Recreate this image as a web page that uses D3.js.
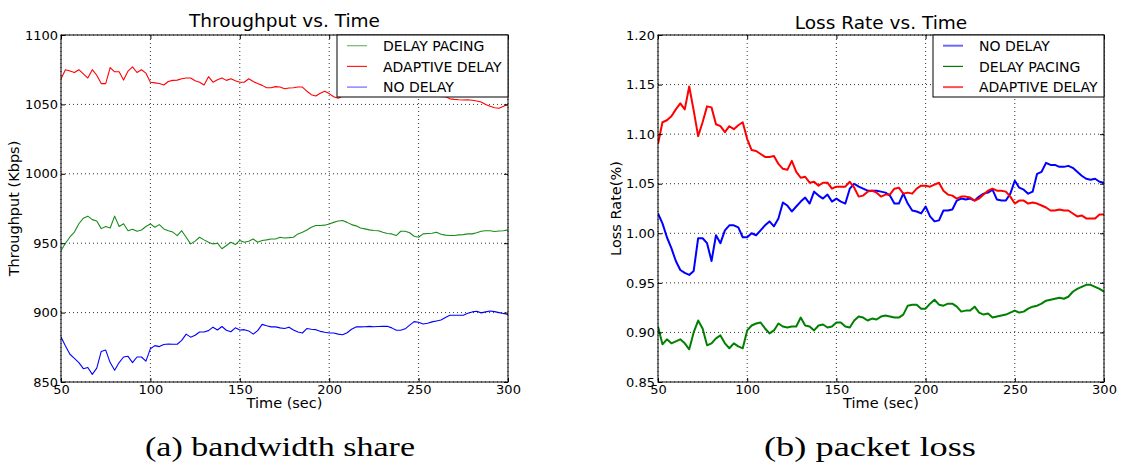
<!DOCTYPE html>
<html>
<head>
<meta charset="utf-8">
<script src="https://cdn.jsdelivr.net/npm/d3@7"></script>
<style>
  html, body { margin: 0; padding: 0; background: #fff; }
  svg { display: block; }
</style>
</head>
<body>
<div id="chart"></div>
<script>
// Sample times (sec), one every 2.5 s
const timeSec = d3.range(50, 302.5, 2.5);
const xTicks = [50, 100, 150, 200, 250, 300];

// (a) Throughput (Kbps)
const thrTicks = [850, 900, 950, 1000, 1050, 1100];
const thrDelayPacing = [
  944.7, 950, 954.5, 958, 964, 968, 969.5, 967, 966, 960.5,
  962, 961, 969.5, 962, 964, 959, 960, 958.6, 959.5, 962,
  963.9, 961.5, 963.4, 960.3, 959, 958, 955.5, 959, 954.3, 949.5,
  951.5, 954.3, 952.4, 950.7, 949.5, 950, 946, 948.3, 950.7, 949,
  952, 950.7, 951.4, 953, 950.7, 952, 952.4, 953, 953, 954.3,
  953.8, 954, 954.3, 956.7, 957.9, 959.5, 961.5, 962.7, 962.7, 963,
  963.9, 965, 966, 966.3, 965, 963.4, 962.5, 961, 960.3, 959.6,
  959.2, 959, 957.9, 957, 956.7, 955.5, 958.6, 958.6, 957.5, 955,
  954.3, 956.7, 957, 957.2, 957.9, 956.5, 955.8, 955.5, 955.5, 956,
  956.2, 956.7, 956.7, 957.5, 958.6, 959, 959, 958.4, 958.8, 959,
  959.6
];
const thrAdaptive = [
  1068.5, 1075, 1074, 1073, 1075, 1072, 1069, 1075, 1071, 1065,
  1065, 1076.5, 1073.5, 1073.5, 1067.5, 1074, 1077, 1073, 1075, 1072.5,
  1066, 1065.5, 1065, 1064, 1066.5, 1067.3, 1067.5, 1068.5, 1069, 1069,
  1067, 1066, 1064, 1070, 1066, 1067.8, 1069, 1067.3, 1068.5, 1067,
  1066, 1066, 1068.5, 1066.5, 1065, 1063.7, 1062, 1062, 1062.8, 1062.5,
  1061.3, 1061.8, 1062, 1062.5, 1062.5, 1059.5, 1057, 1056, 1058, 1059.5,
  1057.8, 1055.5, 1054.5, 1056, 1056.5, 1057, 1056.5, 1056, 1056.5, 1057,
  1056.5, 1056, 1056.5, 1056, 1056.5, 1057, 1056.5, 1056, 1056, 1056.5,
  1056, 1056, 1055.8, 1055.8, 1056, 1055.8, 1055.6, 1054, 1053.6, 1053.3,
  1053.2, 1053.4, 1053, 1052.5, 1051.7, 1050, 1048.6, 1047.6, 1047.2, 1048.6,
  1050
];
const thrNoDelay = [
  882.5, 876, 870, 867, 864, 859.6, 860.5, 855.5, 860, 872,
  873, 864, 858.5, 864, 868, 868.5, 864, 868, 868, 865,
  874, 876.2, 875.5, 877, 877.4, 877.2, 877.2, 880, 884.5, 882.3,
  883.7, 886, 886, 887, 889.5, 887.5, 890, 887.3, 886.2, 889,
  887.5, 887.7, 886.8, 884.5, 887, 891.5, 890.5, 889.7, 889.7, 889,
  888.5, 889.5, 887.5, 886, 885.3, 888.5, 888, 887.7, 886.5, 885.8,
  885.3, 885.3, 884.5, 884, 885.5, 888, 889.7, 889.7, 889.8, 890.1,
  889.8, 890, 890.1, 890.1, 889, 887.3, 887.3, 888.3, 891, 893.5,
  893, 891.8, 892.3, 893.3, 894, 894.7, 896.5, 898.1, 898.1, 898.1,
  898.1, 899.5, 900.5, 901, 899.8, 900.5, 901.2, 900.7, 900, 899.3,
  898.6
];

// (b) Loss rate (%)
const lossTicks = [0.85, 0.90, 0.95, 1.00, 1.05, 1.10, 1.15, 1.20];
const lossNoDelay = [
  1.020, 1.010, 0.996, 0.985, 0.972, 0.963, 0.960, 0.958, 0.962, 0.995,
  0.995, 0.990, 0.972, 0.998, 0.990, 1.003, 1.008, 1.008, 1.006, 0.996,
  0.996, 1.000, 0.998, 1.003, 1.008, 1.012, 1.007, 1.015, 1.031, 1.028,
  1.022, 1.027, 1.032, 1.036, 1.030, 1.042, 1.038, 1.035, 1.039, 1.032,
  1.035, 1.032, 1.030, 1.045, 1.050, 1.047, 1.045, 1.043, 1.043, 1.043,
  1.042, 1.041, 1.038, 1.030, 1.030, 1.040, 1.030, 1.023, 1.022, 1.020,
  1.027, 1.017, 1.012, 1.013, 1.023, 1.023, 1.024, 1.033, 1.035, 1.034,
  1.035, 1.033, 1.037, 1.040, 1.041, 1.044, 1.034, 1.033, 1.033, 1.040,
  1.053, 1.046, 1.044, 1.040, 1.042, 1.060, 1.062, 1.071, 1.069, 1.069,
  1.067, 1.067, 1.068, 1.066, 1.062, 1.058, 1.055, 1.054, 1.055, 1.052,
  1.051
];
const lossDelayPacing = [
  0.906, 0.888, 0.893, 0.889, 0.891, 0.893, 0.889, 0.883, 0.900, 0.912,
  0.904, 0.887, 0.889, 0.894, 0.897, 0.889, 0.884, 0.889, 0.886, 0.884,
  0.902, 0.907, 0.909, 0.910, 0.904, 0.899, 0.902, 0.909, 0.906, 0.905,
  0.906, 0.906, 0.915, 0.907, 0.906, 0.902, 0.907, 0.908, 0.905, 0.906,
  0.910, 0.910, 0.906, 0.905, 0.912, 0.916, 0.915, 0.912, 0.914, 0.913,
  0.916, 0.917, 0.916, 0.915, 0.915, 0.918, 0.927, 0.928, 0.928, 0.924,
  0.924, 0.929, 0.933, 0.928, 0.927, 0.929, 0.929, 0.926, 0.921, 0.922,
  0.922, 0.926, 0.920, 0.918, 0.919, 0.915, 0.916, 0.917, 0.918, 0.920,
  0.922, 0.920, 0.921, 0.924, 0.926, 0.927, 0.929, 0.932, 0.933, 0.934,
  0.935, 0.934, 0.936, 0.941, 0.944, 0.946, 0.948, 0.948, 0.946, 0.944,
  0.941
];
const lossAdaptive = [
  1.090, 1.112, 1.114, 1.118, 1.125, 1.131, 1.125, 1.148, 1.124, 1.098,
  1.112, 1.128, 1.127, 1.110, 1.108, 1.102, 1.108, 1.105, 1.109, 1.112,
  1.095, 1.084, 1.083, 1.080, 1.077, 1.077, 1.078, 1.070, 1.065, 1.064,
  1.073, 1.062, 1.056, 1.057, 1.051, 1.052, 1.048, 1.051, 1.051, 1.045,
  1.047, 1.047, 1.047, 1.052, 1.046, 1.037, 1.038, 1.042, 1.043, 1.041,
  1.037, 1.039, 1.039, 1.045, 1.046, 1.040, 1.041, 1.040, 1.045, 1.048,
  1.048, 1.047, 1.049, 1.051, 1.043, 1.039, 1.038, 1.035, 1.037, 1.037,
  1.036, 1.033, 1.035, 1.039, 1.043, 1.045, 1.043, 1.043, 1.042, 1.037,
  1.030, 1.033, 1.033, 1.030, 1.031, 1.030, 1.028, 1.026, 1.023, 1.023,
  1.024, 1.023, 1.023, 1.020, 1.017, 1.018, 1.015, 1.015, 1.015, 1.019,
  1.019
];

const width = 1121;
const height = 470;
const sans = "'DejaVu Sans', Verdana, sans-serif";

const svg = d3.select("#chart").append("svg")
    .attr("width", width)
    .attr("height", height)
    .attr("viewBox", [0, 0, width, height]);

function drawPanel(p) {
  const x = d3.scaleLinear().domain([50, 300]).range([p.left, p.right]);
  const y = d3.scaleLinear().domain(p.yDomain).range([p.bottom, p.top]);
  const g = svg.append("g");

  // Clip for the series
  g.append("clipPath").attr("id", p.id + "-clip")
    .append("rect")
      .attr("x", p.left).attr("y", p.top)
      .attr("width", p.right - p.left).attr("height", p.bottom - p.top);

  // Dotted grid
  g.append("g").selectAll("line").data(xTicks).join("line")
      .attr("x1", d => x(d)).attr("x2", d => x(d))
      .attr("y1", p.top).attr("y2", p.bottom)
      .attr("stroke", "#333").attr("stroke-width", 1)
      .attr("stroke-dasharray", "1,3");
  g.append("g").selectAll("line").data(p.yTicks).join("line")
      .attr("x1", p.left).attr("x2", p.right)
      .attr("y1", d => y(d)).attr("y2", d => y(d))
      .attr("stroke", "#333").attr("stroke-width", 1)
      .attr("stroke-dasharray", "1,3");

  // Series
  const line = d3.line().x((d, i) => x(timeSec[i])).y(d => y(d));
  p.series.forEach(s => {
    g.append("path")
        .datum(s.values)
        .attr("clip-path", `url(#${p.id}-clip)`)
        .attr("fill", "none")
        .attr("stroke", s.color)
        .attr("stroke-width", p.lineWidth)
        .attr("stroke-linejoin", "round")
        .attr("d", line);
  });

  // Axes with inward ticks on all four sides
  const bottom = g.append("g")
      .attr("transform", `translate(0,${p.bottom})`)
      .call(d3.axisBottom(x).tickValues(xTicks).tickSizeInner(-4).tickSizeOuter(0).tickPadding(3));
  const leftAx = g.append("g")
      .attr("transform", `translate(${p.left},0)`)
      .call(d3.axisLeft(y).tickValues(p.yTicks).tickFormat(p.yFormat)
        .tickSizeInner(-4).tickSizeOuter(0).tickPadding(3));
  g.append("g")
      .attr("transform", `translate(0,${p.top})`)
      .call(d3.axisTop(x).tickValues(xTicks).tickSizeInner(-4).tickSizeOuter(0).tickFormat(""));
  g.append("g")
      .attr("transform", `translate(${p.right},0)`)
      .call(d3.axisRight(y).tickValues(p.yTicks).tickSizeInner(-4).tickSizeOuter(0).tickFormat(""));
  g.selectAll(".domain").remove();
  g.selectAll(".tick line").attr("stroke", "#000");
  [bottom, leftAx].forEach(a => a.selectAll("text")
      .attr("font-family", sans).attr("font-size", "13px").attr("fill", "#000"));

  // Frame
  g.append("rect")
      .attr("x", p.left).attr("y", p.top)
      .attr("width", p.right - p.left).attr("height", p.bottom - p.top)
      .attr("fill", "none").attr("stroke", "#000").attr("stroke-width", 1);

  // Title and axis labels
  g.append("text")
      .attr("x", (p.left + p.right) / 2).attr("y", p.titleY)
      .attr("text-anchor", "middle")
      .attr("font-family", sans).attr("font-size", "18.5px")
      .text(p.title);
  g.append("text")
      .attr("x", (p.left + p.right) / 2).attr("y", 408)
      .attr("text-anchor", "middle")
      .attr("font-family", sans).attr("font-size", "14.5px")
      .text("Time (sec)");
  g.append("text")
      .attr("transform", `translate(${p.yLabelX},${(p.top + p.bottom) / 2}) rotate(-90)`)
      .attr("text-anchor", "middle")
      .attr("font-family", sans).attr("font-size", "14.5px")
      .text(p.yLabel);

  // Legend
  const lg = g.append("g").attr("transform", `translate(${p.right - 171},${p.top})`);
  lg.append("rect")
      .attr("width", 171).attr("height", 62)
      .attr("fill", "#fff").attr("stroke", "#000").attr("stroke-width", 1);
  p.legend.forEach((s, i) => {
    const cy = 10.7 + i * 20.7;
    lg.append("line")
        .attr("x1", 10).attr("x2", 30).attr("y1", cy).attr("y2", cy)
        .attr("stroke", s.color).attr("stroke-width", s.width);
    lg.append("text")
        .attr("x", 46).attr("y", cy + 5.2)
        .attr("font-family", sans).attr("font-size", "14px")
        .text(s.name);
  });

  // Caption
  svg.append("text")
      .attr("x", p.captionX).attr("y", 456)
      .attr("text-anchor", "middle")
      .attr("font-family", "'Liberation Serif', 'Times New Roman', serif")
      .attr("font-size", "27px")
      .attr("textLength", p.captionLen)
      .attr("lengthAdjust", "spacingAndGlyphs")
      .text(p.caption);
}

drawPanel({
  id: "thr",
  left: 61, right: 508, top: 35, bottom: 382,
  yDomain: [850, 1100], yTicks: thrTicks, yFormat: d3.format("d"),
  title: "Throughput vs. Time", titleY: 26.5,
  yLabel: "Throughput (Kbps)", yLabelX: 19,
  lineWidth: 1.1,
  series: [
    { values: thrDelayPacing, color: "#1a8c1a" },
    { values: thrAdaptive, color: "#ff0000" },
    { values: thrNoDelay, color: "#0000ff" }
  ],
  legend: [
    { name: "DELAY PACING", color: "#6cb86c", width: 1.2 },
    { name: "ADAPTIVE DELAY", color: "#ff2020", width: 1.2 },
    { name: "NO DELAY", color: "#6a6aff", width: 1.2 }
  ],
  caption: "(a) bandwidth share", captionX: 280, captionLen: 270
});

drawPanel({
  id: "loss",
  left: 658, right: 1104, top: 35, bottom: 382,
  yDomain: [0.85, 1.20], yTicks: lossTicks, yFormat: d3.format(".2f"),
  title: "Loss Rate vs. Time", titleY: 29,
  yLabel: "Loss Rate(%)", yLabelX: 621,
  lineWidth: 2,
  series: [
    { values: lossNoDelay, color: "#0000ff" },
    { values: lossDelayPacing, color: "#008000" },
    { values: lossAdaptive, color: "#ff0000" }
  ],
  legend: [
    { name: "NO DELAY", color: "#6a6aff", width: 2 },
    { name: "DELAY PACING", color: "#008000", width: 1.2 },
    { name: "ADAPTIVE DELAY", color: "#ff5050", width: 2 }
  ],
  caption: "(b) packet loss", captionX: 870, captionLen: 212
});
</script>
</body>
</html>
